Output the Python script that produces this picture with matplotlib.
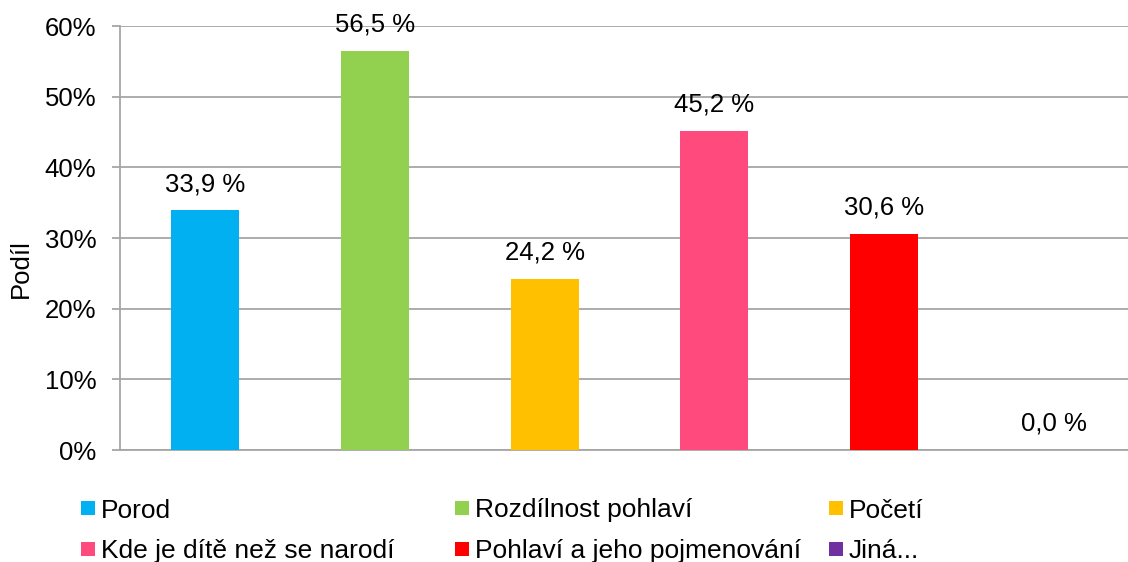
import matplotlib
matplotlib.use("Agg")
import matplotlib.pyplot as plt
from matplotlib.patches import Rectangle
from matplotlib.ticker import FuncFormatter

categories = ["Porod", "Rozdílnost pohlaví", "Početí",
              "Kde je dítě než se narodí", "Pohlaví a jeho pojmenování", "Jiná..."]
values = [33.9, 56.5, 24.2, 45.2, 30.6, 0.0]
colors = ["#00B0F0", "#92D050", "#FFC000", "#FF4A7D", "#FF0000", "#7030A0"]
y_ticks = [0, 10, 20, 30, 40, 50, 60]

plt.rcParams['font.family'] = ['Liberation Sans', 'DejaVu Sans']

W, H = 1128, 562
fig = plt.figure(figsize=(W / 100, H / 100), dpi=100)
ax = fig.add_axes([120 / W, 1 - 450 / H, 1019 / W, (450 - 26) / H])

x = list(range(len(categories)))
ax.bar(x, values, width=0.4, color=colors, zorder=3)
for xi, v in zip(x, values):
    ax.text(xi, v + 2.0, f"{v:.1f} %".replace(".", ","), ha="center", va="bottom",
            fontsize=18.5, color="black")

ax.set_xlim(-0.5, len(categories) - 0.5)
ax.set_ylim(0, 60)
ax.set_yticks(y_ticks)
ax.yaxis.set_major_formatter(FuncFormatter(lambda v, p: f"{int(v)}%"))
ax.set_xticks([])
ax.grid(axis="y", color="#A6A6A6", linewidth=1.3, zorder=0)
for s in ["top", "right"]:
    ax.spines[s].set_visible(False)
for s in ["left", "bottom"]:
    ax.spines[s].set_color("#A6A6A6")
    ax.spines[s].set_linewidth(1.3)
ax.tick_params(axis="y", length=6, width=1.3, color="#A6A6A6", labelsize=18.5, pad=11)

fig.text(21 / W, 1 - 269 / H, "Podíl", rotation=90, ha="center", va="center",
         fontsize=18.5, color="black")

# legend, row-major, 3 columns
col_x = [81, 455, 829]
row_y = [508, 548.5]
sq = 14
for i, (lab, c) in enumerate(zip(categories, colors)):
    cx = col_x[i % 3]
    cy = row_y[i // 3]
    fig.patches.append(Rectangle((cx / W, 1 - (cy + sq / 2) / H), sq / W, sq / H,
                                 transform=fig.transFigure, facecolor=c,
                                 edgecolor="none", figure=fig))
    fig.text((cx + sq + 6) / W, 1 - cy / H, lab, ha="left", va="center_baseline",
             fontsize=19, color="black")

fig.savefig("out.png", dpi=100)
